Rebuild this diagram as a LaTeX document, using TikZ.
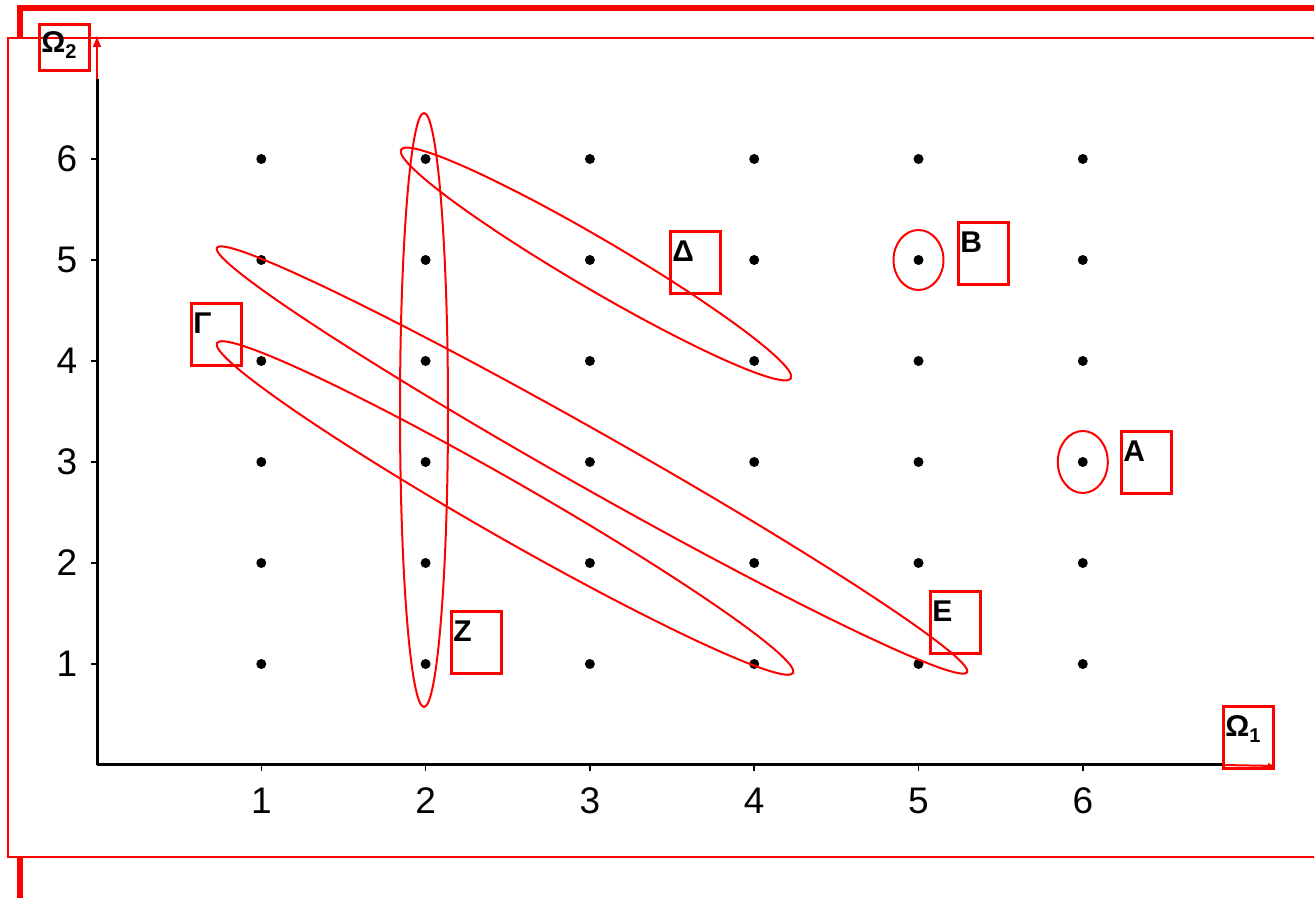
\documentclass[tikz,border=0pt]{standalone}
\usepackage{fontspec}
\setmainfont{Liberation Sans}
\usetikzlibrary{arrows.meta}
\tikzset{
  dot/.style={circle, fill=black, inner sep=0pt, minimum size=5pt},
  setring/.style={draw=red, line width=1pt},
  ticklbl/.style={font=\fontsize{18.5}{20}\selectfont},
  lblbox/.style={draw=red, line width=1.3pt, minimum width=25pt, minimum height=31pt,
    inner sep=0pt, anchor=north west},
  boxtext/.style={anchor=north west, inner sep=0pt, xshift=1.5pt, yshift=-5pt,
    font=\fontsize{15}{17}\selectfont\bfseries},
}
\newcommand{\omsub}[1]{Ω{\fontsize{10}{11}\selectfont\raisebox{-3pt}{#1}}}
\begin{document}
\begin{tikzpicture}[x=0.5pt, y=-0.5pt]
                \useasboundingbox (0,0) rectangle (1314,898);
                % frames
                \draw [red, line width=3pt] (19.5,38) -- (19.5,8) -- (1314,8);
                \draw [red, line width=3pt] (19.5,857) -- (19.5,898);
                \draw [red, line width=1pt, fill=white] (8,38) rectangle (1330,857);
                % axes
                \coordinate (O) at (97,765);
                \coordinate (ytop) at (97,79);
                \coordinate (ytip) at (97,35);
                \coordinate (xend) at (1222,765);
                \coordinate (xtip) at (1276,766);
                \draw [line width=1.5pt] (O) -- (ytop);
                \draw [red, line width=1pt, -{Latex[length=6pt,width=4.5pt]}] (ytop) -- (ytip);
                \draw [line width=1.5pt] (O) -- (xend);
                \draw [red, line width=1pt, -{Latex[length=4pt,width=3pt]}] (xend) -- (xtip);
                \foreach \k in {1,...,6} {
                  \draw [line width=0.8pt] (97+164.3*\k,765) -- (97+164.3*\k,771);
                  \draw [line width=0.8pt] (91,765-101*\k) -- (97,765-101*\k);
                  \node [ticklbl] (xl\k) at (97+164.3*\k,801) {\k};
                  \node [ticklbl] (yl\k) at (67,765-101*\k) {\k};
                }
                % sample points
                \foreach \i in {1,...,6}
                  \foreach \j in {1,...,6}
                    \node [dot] (p\i\j) at (97+164.3*\i,765-101*\j) {};
                % events
                \draw [setring] (424,410) ellipse [x radius=12pt, y radius=148.5pt];
                \draw [setring, rotate around={-30.4:(596,264)}] (596,264) ellipse [x radius=113pt, y radius=12.5pt];
                \draw [setring, rotate around={-29.5:(592,460)}] (592,460) ellipse [x radius=215.5pt, y radius=14pt];
                \draw [setring, rotate around={-29.8:(505,508)}] (505,508) ellipse [x radius=166pt, y radius=14pt];
                \draw [setring] (p55) ellipse [x radius=12.5pt, y radius=15pt];
                \draw [setring] (p63) ellipse [x radius=12.5pt, y radius=15.5pt];
                % labels
                \node [lblbox, minimum height=23pt, label={[boxtext, yshift=1pt]north west:\omsub{2}}] (om2) at (38,23) {};
                \node [lblbox, label={[boxtext]north west:Γ}] (gam) at (190,302) {};
                \node [lblbox, label={[boxtext]north west:Δ}] (del) at (669,230) {};
                \node [lblbox, label={[boxtext]north west:Β}] (bet) at (957,221) {};
                \node [lblbox, label={[boxtext]north west:Α}] (alp) at (1120,430) {};
                \node [lblbox, label={[boxtext]north west:Ε}] (eps) at (929,590) {};
                \node [lblbox, label={[boxtext]north west:Ζ}] (zet) at (450,610) {};
                \node [lblbox, label={[boxtext]north west:\omsub{1}}] (om1) at (1222,705) {};
            \end{tikzpicture}
\end{document}
